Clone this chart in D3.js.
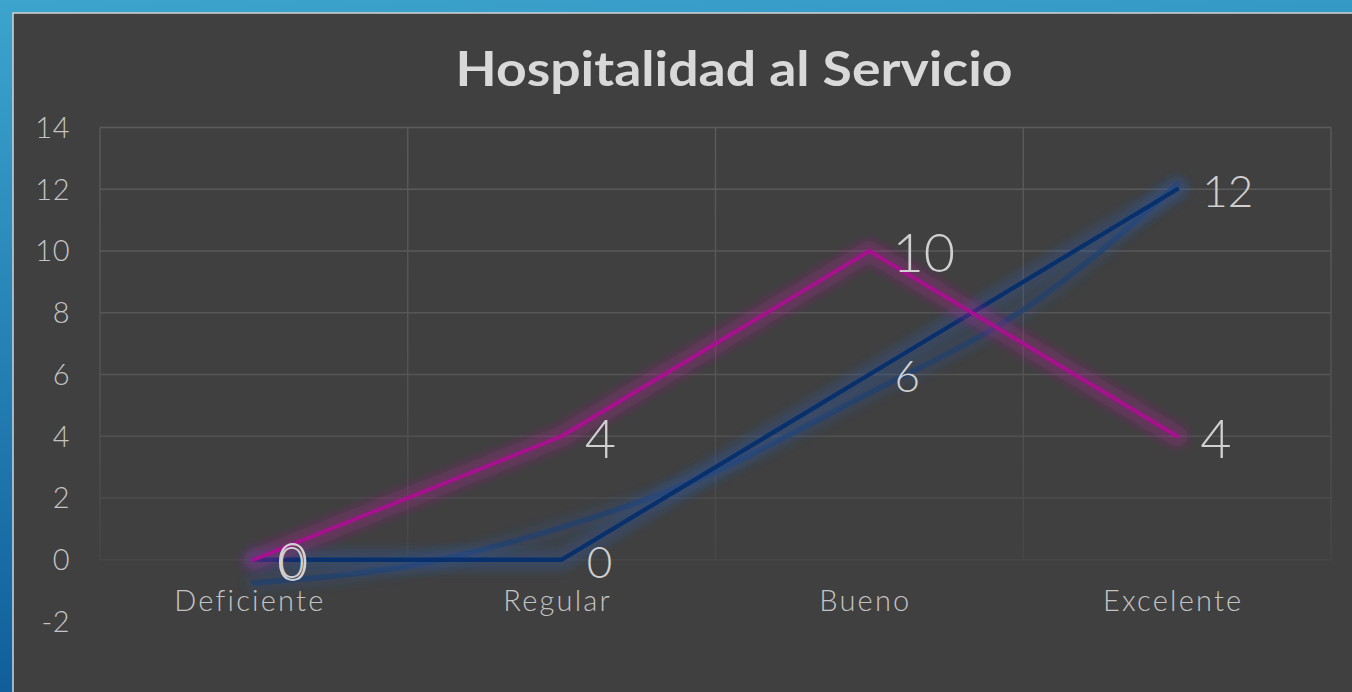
<!DOCTYPE html>
<html>
<head>
<meta charset="utf-8">
<script src="https://cdn.jsdelivr.net/npm/d3@7"></script>
<style>
  html, body { margin: 0; padding: 0; background: #2a86b8; }
  svg { display: block; }
</style>
</head>
<body>
<svg width="1352" height="692"></svg>
<script>
const categories = ["Deficiente", "Regular", "Bueno", "Excelente"];
const valuesPink = [0, 4, 10, 4];
const valuesBlue = [0, 0, 6, 12];
// trendline of the blue series at every half category
const trendPos = [0, 0.5, 1, 1.5, 2, 2.5, 3];
const trendVals = [-0.75, -0.2, 1.05, 2.86, 5.4, 8.1, 12.15];
const yTicks = [-2, 0, 2, 4, 6, 8, 10, 12, 14];

const svg = d3.select("svg");
const width = +svg.attr("width");
const height = +svg.attr("height");

const font = "'Century Gothic', Lato, 'Noto Sans', sans-serif";

const defs = svg.append("defs");

const bg = defs.append("linearGradient")
  .attr("id", "bg").attr("x1", 0).attr("y1", 0).attr("x2", 0.15).attr("y2", 1);
bg.append("stop").attr("offset", 0).attr("stop-color", "#3ca4cd");
bg.append("stop").attr("offset", 1).attr("stop-color", "#0f5d9b");

const grid = defs.append("linearGradient")
  .attr("id", "grid").attr("gradientUnits", "userSpaceOnUse")
  .attr("x1", 0).attr("y1", 127).attr("x2", 0).attr("y2", 622);
grid.append("stop").attr("offset", 0).attr("stop-color", "#5c5c5c");
grid.append("stop").attr("offset", 0.55).attr("stop-color", "#545454");
grid.append("stop").attr("offset", 0.88).attr("stop-color", "#464646");
grid.append("stop").attr("offset", 1).attr("stop-color", "#404040");

defs.append("filter").attr("id", "blur")
  .attr("x", "-20%").attr("y", "-20%").attr("width", "140%").attr("height", "140%")
  .append("feGaussianBlur").attr("stdDeviation", 5);

// background
svg.append("rect").attr("width", width).attr("height", height).attr("fill", "url(#bg)");
svg.append("rect")
  .attr("x", 13).attr("y", 13)
  .attr("width", width).attr("height", height)
  .attr("fill", "#404040")
  .attr("stroke", "#d4d4d4").attr("stroke-width", 1.5);

const left = 100, right = 1331;

const x = d3.scalePoint().domain(categories).range([left, right]).padding(0.5);
const xBand = d3.scaleBand().domain(categories).range([left, right]);
const xIdx = d3.scaleLinear().domain([0, categories.length - 1])
  .range([x(categories[0]), x(categories[categories.length - 1])]);
const y = d3.scaleLinear().domain([-2, 14]).range([621.5, 127.5]);

// gridlines
const gridG = svg.append("g");
gridG.selectAll("line.h")
  .data(yTicks.filter(d => d >= 0))
  .join("line")
  .attr("x1", left).attr("x2", right)
  .attr("y1", d => y(d)).attr("y2", d => y(d))
  .attr("stroke", "url(#grid)").attr("stroke-width", 1.3);

const bounds = categories.map(c => xBand(c)).concat([xBand.range()[1]]);
gridG.selectAll("rect.v")
  .data(bounds)
  .join("rect")
  .attr("x", d => d - 0.65).attr("width", 1.3)
  .attr("y", y(14)).attr("height", y(0) - y(14))
  .attr("fill", "url(#grid)");

// y axis labels
svg.append("g")
  .selectAll("text")
  .data(yTicks)
  .join("text")
  .attr("x", 70)
  .attr("y", d => y(d))
  .attr("dy", "0.36em")
  .attr("text-anchor", "end")
  .attr("fill", "#c4c4c4")
  .attr("font-family", font)
  .attr("font-weight", 300)
  .attr("font-size", 29)
  .attr("letter-spacing", 0.5)
  .text(d => d);

// category labels
svg.append("g")
  .selectAll("text")
  .data(categories)
  .join("text")
  .attr("x", d => x(d) - 4)
  .attr("y", 611)
  .attr("text-anchor", "middle")
  .attr("fill", "#c4c4c4")
  .attr("font-family", font)
  .attr("font-weight", 300)
  .attr("font-size", 29)
  .attr("letter-spacing", 2.2)
  .text(d => d);

// title
svg.append("text")
  .attr("x", 734)
  .attr("y", 86)
  .attr("text-anchor", "middle")
  .attr("fill", "#d9d9d9")
  .attr("font-family", font)
  .attr("font-weight", "bold")
  .attr("font-size", 47)
  .attr("textLength", 557)
  .attr("lengthAdjust", "spacingAndGlyphs")
  .text("Hospitalidad al Servicio");

const line = d3.line()
  .x((d, i) => x(categories[i]))
  .y(d => y(d));

const trendLine = d3.line()
  .x(d => xIdx(d[0]))
  .y(d => y(d[1]))
  .curve(d3.curveNatural);
const trendData = trendPos.map((p, i) => [p, trendVals[i]]);

const plot = svg.append("g")
  .attr("fill", "none")
  .attr("stroke-linecap", "round")
  .attr("stroke-linejoin", "round");

// trendline glow + line
plot.append("path").attr("d", trendLine(trendData))
  .attr("stroke", "#2a5aa8").attr("stroke-opacity", 0.2)
  .attr("stroke-width", 18).attr("filter", "url(#blur)");
plot.append("path").attr("d", trendLine(trendData))
  .attr("stroke", "#21406e").attr("stroke-opacity", 0.75)
  .attr("stroke-width", 5.5);

// blue series
plot.append("path").attr("d", line(valuesBlue))
  .attr("stroke", "#2a5aa8").attr("stroke-opacity", 0.3)
  .attr("stroke-width", 22).attr("filter", "url(#blur)");
plot.append("path").attr("d", line(valuesBlue))
  .attr("stroke", "#07306d").attr("stroke-width", 4.3);

// pink series
plot.append("path").attr("d", line(valuesPink))
  .attr("stroke", "#b8129a").attr("stroke-opacity", 0.32)
  .attr("stroke-width", 22).attr("filter", "url(#blur)");
plot.append("path").attr("d", line(valuesPink))
  .attr("stroke", "#a8108f").attr("stroke-width", 3.8);

// data labels
svg.append("g")
  .selectAll("text")
  .data(valuesBlue)
  .join("text")
  .attr("x", (d, i) => x(categories[i]) + 25)
  .attr("y", d => y(d) + 2)
  .attr("dy", "0.36em")
  .attr("fill", "#d0d0d0")
  .attr("font-family", font)
  .attr("font-weight", 300)
  .attr("font-size", 44)
  .text(d => d);

svg.append("g")
  .selectAll("text")
  .data(valuesPink)
  .join("text")
  .attr("x", (d, i) => x(categories[i]) + 23)
  .attr("y", d => y(d) + 2)
  .attr("dy", "0.36em")
  .attr("fill", "#d0d0d0")
  .attr("font-family", font)
  .attr("font-weight", 300)
  .attr("font-size", 54)
  .text(d => d);
</script>
</body>
</html>
